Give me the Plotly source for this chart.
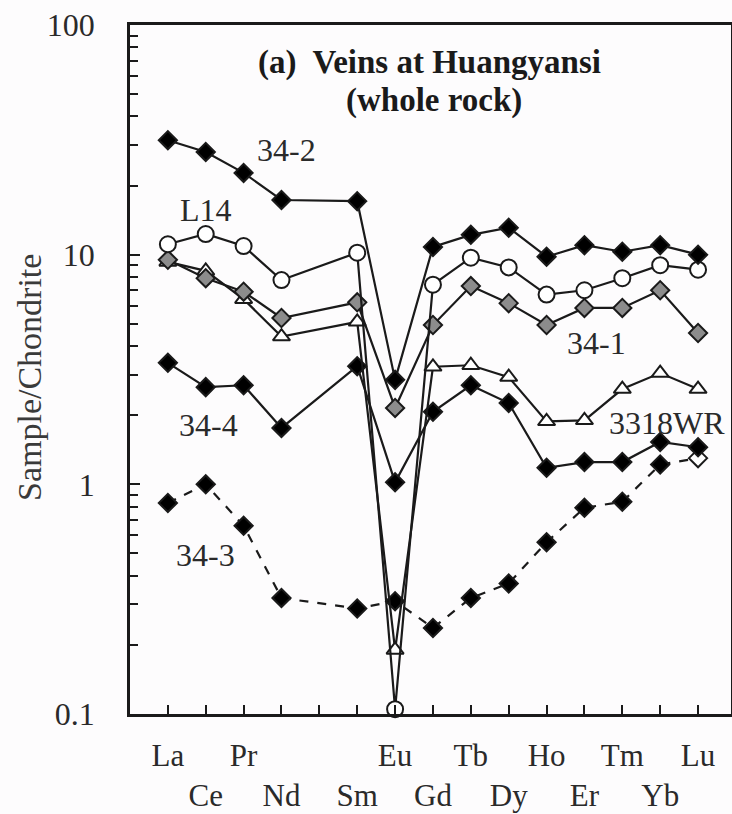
import math
import plotly.graph_objects as go

# ---- data ----
ree_axis = ["La", "Ce", "Pr", "Nd", "Pm", "Sm", "Eu", "Gd", "Tb", "Dy", "Ho", "Er", "Tm", "Yb", "Lu"]
ree = ["La", "Ce", "Pr", "Nd", "Sm", "Eu", "Gd", "Tb", "Dy", "Ho", "Er", "Tm", "Yb", "Lu"]

s34_2 = [31.5, 28.0, 22.7, 17.3, 17.1, 2.85, 10.8, 12.2, 13.1, 9.8, 11.0, 10.3, 11.0, 10.0]
sL14 = [11.1, 12.3, 10.9, 7.75, 10.2, 0.105, 7.4, 9.7, 8.8, 6.7, 7.0, 7.9, 9.0, 8.6]
s34_1 = [9.5, 7.9, 6.9, 5.3, 6.2, 2.15, 4.94, 7.3, 6.15, 4.94, 5.86, 5.86, 7.0, 4.56]
s3318WR = [9.3, 8.5, 6.4, 4.4, 5.1, 0.19, 3.25, 3.3, 2.93, 1.88, 1.9, 2.6, 3.05, 2.6]
s34_4 = [3.38, 2.65, 2.7, 1.76, 3.27, 1.02, 2.07, 2.7, 2.26, 1.18, 1.25, 1.25, 1.53, 1.45]
s34_3 = [0.83, 1.0, 0.66, 0.32, 0.288, 0.31, 0.237, 0.32, 0.37, 0.56, 0.79, 0.84, 1.22, 1.3]

row1 = {"La", "Pr", "Eu", "Tb", "Ho", "Tm", "Lu"}
tick_text = [("" if e == "Pm" else (e if e in row1 else "<br>" + e)) for e in ree_axis]
y_tick_vals = [0.1, 1, 10, 100]
y_tick_text = ["0.1", "1", "10", "100"]

xpos = [ree_axis.index(e) for e in ree]

FONT = "Liberation Serif"
INK = "#1a1a1a"
TXT = "#2a2a2a"

fig = go.Figure()

def add(vals, symbol, fill, dash="solid", size=14, name=""):
    fig.add_trace(go.Scatter(
        x=xpos, y=vals, mode="lines+markers", name=name,
        line=dict(color=INK, width=2.2, dash=dash),
        marker=dict(symbol=symbol, size=size, color=fill,
                    line=dict(color=INK, width=2)),
        cliponaxis=False, showlegend=False))

lu_fill = ["#000000"] * (len(ree) - 1) + ["#ffffff"]
add(s34_3, "diamond", lu_fill, dash="dash", name="34-3")
add(s34_4, "diamond", "#000000", name="34-4")
add(s3318WR, "triangle-up", "#ffffff", size=15, name="3318WR")
add(s34_1, "diamond", "#8c8c8c", name="34-1")
add(sL14, "circle", "#ffffff", size=16, name="L14")
add(s34_2, "diamond", "#000000", name="34-2")

labels = [
    ("34-2", 3.14, 1.455), ("L14", 1.0, 1.194), ("34-1", 11.32, 0.615),
    ("3318WR", 13.19, 0.267), ("34-4", 1.08, 0.258), ("34-3", 1.0, -0.308),
]
for t, x, y in labels:
    fig.add_annotation(x=x, y=y, xref="x", yref="y", text=t, showarrow=False,
                       font=dict(family=FONT, size=32, color=TXT))

fig.add_annotation(x=6.91, y=1.838, xref="x", yref="y", text="<b>(a)  Veins at Huangyansi</b>",
                   showarrow=False, font=dict(family=FONT, size=33, color=INK))
fig.add_annotation(x=7.04, y=1.673, xref="x", yref="y", text="<b>(whole rock)</b>",
                   showarrow=False, font=dict(family=FONT, size=33, color=INK))
fig.add_annotation(x=-0.166, y=0.488, xref="paper", yref="paper", text="Sample/Chondrite",
                   textangle=-90, showarrow=False, xanchor="center", yanchor="middle",
                   font=dict(family=FONT, size=34, color="#3a3a3a"))

minor_vals = [m * 10 ** d for d in (-1, 0, 1) for m in range(2, 10)]

fig.update_layout(
    width=732, height=814,
    margin=dict(l=130, r=1, t=25, b=100, autoexpand=False),
    paper_bgcolor="#fdfcfd", plot_bgcolor="#fdfcfd",
    font=dict(family=FONT, color=INK),
    showlegend=False,
)
fig.update_xaxes(
    range=[-1.0, 14.87], tickvals=list(range(len(ree_axis))), ticktext=tick_text,
    tickangle=0,
    ticks="inside", ticklen=9, tickwidth=2, tickcolor=INK,
    showline=True, linecolor=INK, linewidth=2.5, mirror=True,
    showgrid=False, zeroline=False, ticklabelstandoff=12, automargin=False,
    tickfont=dict(family=FONT, size=31, color=TXT),
)
fig.update_yaxes(
    type="log", range=[-1, 2], tickvals=y_tick_vals, ticktext=y_tick_text,
    ticks="inside", ticklen=10, tickwidth=2, tickcolor=INK,
    minor=dict(tickvals=minor_vals, ticks="inside", ticklen=8, tickwidth=2, tickcolor=INK, showgrid=False),
    showline=True, linecolor=INK, linewidth=2.5, mirror=True,
    showgrid=False, zeroline=False, ticklabelstandoff=26, automargin=False,
    tickfont=dict(family=FONT, size=32, color=TXT),
)

fig.write_html("out.html", config={"displayModeBar": False},
               post_script="document.body.style.margin='0';document.body.style.padding='0';")
